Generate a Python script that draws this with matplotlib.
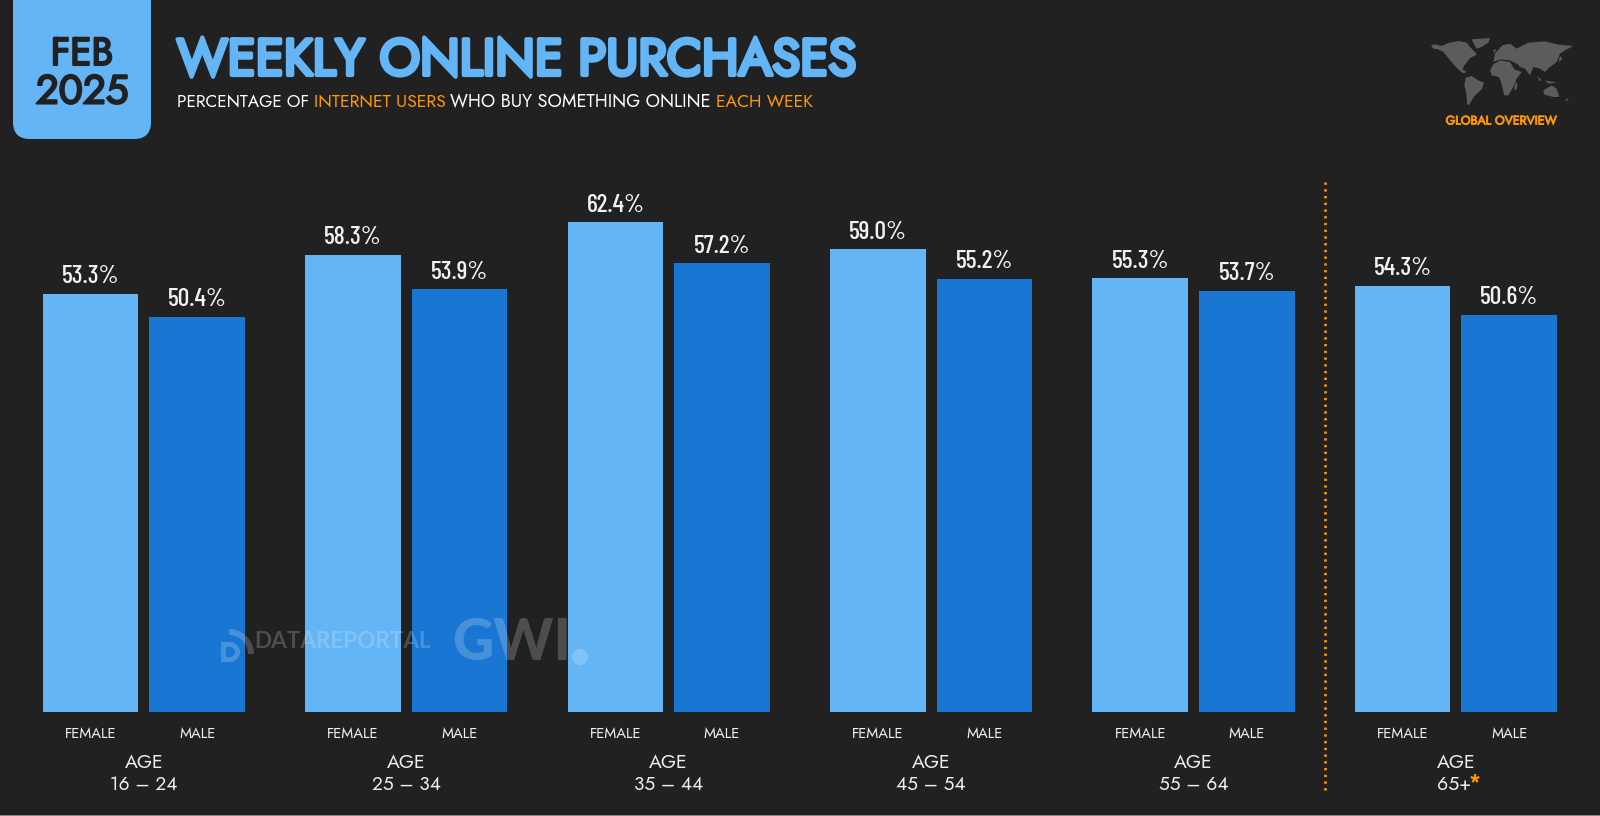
import matplotlib.pyplot as plt
import matplotlib.patheffects as pe
import numpy as np
from matplotlib.patches import FancyBboxPatch, Polygon, Rectangle, Wedge, Circle

bg = "#212121"
light_blue = "#64b5f6"
dark_blue = "#1976d2"
orange = "#ff9800"

age_groups = ["16 – 24", "25 – 34", "35 – 44", "45 – 54", "55 – 64", "65+"]
female = [53.3, 58.3, 62.4, 59.0, 55.3, 54.3]
male = [50.4, 53.9, 57.2, 55.2, 53.7, 50.6]

plain_font = ["Jost", "Lato", "DejaVu Sans"]
value_font = ["Barlow Condensed", "Liberation Sans", "DejaVu Sans"]
mark_font = ["Lato", "DejaVu Sans"]
plt.rcParams["font.family"] = plain_font


def heavy(width, col):
    return [pe.withStroke(linewidth=width, foreground=col)]


fig = plt.figure(figsize=(16, 8.16), dpi=100, facecolor=bg)

# header and decoration layer, in pixels
deco = fig.add_axes([0, 0, 1, 1], zorder=0)
deco.set_xlim(0, 1600)
deco.set_ylim(816, 0)
deco.axis("off")

# bars
base_px = 711.7
top_px = 150
px_per_pct = 7.84
ax = fig.add_axes([0, 1 - base_px / 816, 1, (base_px - top_px) / 816], zorder=1)
ax.set_xlim(0, 1600)
ax.set_ylim(0, (base_px - top_px) / px_per_pct)
ax.axis("off")

group_centers = 143.9 + 262.4 * np.arange(6)
bar_w = 95.5
offset = 53.3
ax.bar(group_centers - offset, female, bar_w, color=light_blue)
ax.bar(group_centers + offset, male, bar_w, color=dark_blue)

for cx, f, m in zip(group_centers, female, male):
    for x, v in ((cx - offset, f), (cx + offset, m)):
        ax.annotate(f"{v:.1f}%", (x, v), xytext=(0, 4), textcoords="offset points",
                    ha="center", va="bottom", color="#f2f2f2", fontsize=18.5,
                    family=value_font, fontweight="medium")

for cx, age in zip(group_centers, age_groups):
    deco.text(cx - offset, 733, "FEMALE", color="#eeeeee", fontsize=10.7, ha="center", va="center")
    deco.text(cx + offset, 733, "MALE", color="#eeeeee", fontsize=10.7, ha="center", va="center")
    deco.text(cx, 763, "AGE", color="#eeeeee", fontsize=14, ha="center", va="center")
    if age == "65+":
        deco.text(cx - 19, 785, age, color="#eeeeee", fontsize=14, ha="left", va="center")
        deco.text(cx + 13, 783, "*", color=orange, fontsize=15, fontweight="bold", ha="left", va="center",
                  path_effects=heavy(0.6, orange))
    else:
        deco.text(cx, 785, age, color="#eeeeee", fontsize=13.8, ha="center", va="center")

# divider before 65+
deco.plot([1325, 1325], [182, 793], color=orange, lw=1.9, ls=(0, (0.9, 1.65)))

# date badge
deco.add_patch(FancyBboxPatch((13, -40), 138, 179, boxstyle="round,pad=0,rounding_size=17",
                              fc=light_blue, ec="none"))
deco.text(82, 54, "FEB", color=bg, fontsize=28, fontweight="bold", ha="center", va="center",
          path_effects=heavy(1.5, bg))
deco.text(82, 92, "2025", color=bg, fontsize=29, fontweight="bold", ha="center", va="center",
          path_effects=heavy(1.5, bg))

deco.text(177, 75, "WEEKLY ONLINE PURCHASES", color=light_blue, fontsize=36.8,
          fontweight="bold", ha="left", va="baseline", path_effects=heavy(3, light_blue))

subtitle = [("PERCENTAGE OF", "white", 177, 12.4), ("INTERNET USERS", orange, 314, 12.7),
            ("WHO BUY SOMETHING ONLINE", "white", 450, 13), ("EACH WEEK", orange, 716, 12.6)]
for txt, col, x, size in subtitle:
    deco.text(x, 107, txt, color=col, fontsize=size, ha="left", va="baseline")

# world map, rough outline
continents = [
    [(18, 40), (30, 37), (50, 42), (70, 33), (100, 27), (125, 32), (135, 45), (150, 60), (155, 68),
     (135, 78), (125, 92), (118, 100), (112, 112), (125, 120), (115, 124), (100, 112), (88, 100),
     (70, 78), (55, 60), (40, 52), (25, 50)],
    [(140, 22), (195, 18), (190, 32), (170, 45), (155, 50), (148, 38)],
    [(122, 137), (140, 132), (160, 145), (177, 152), (170, 172), (150, 190), (140, 205), (132, 220),
     (126, 215), (125, 190), (118, 160)],
    [(205, 97), (225, 85), (255, 90), (268, 112), (290, 120), (275, 140), (265, 165), (250, 190),
     (238, 190), (228, 150), (222, 135), (200, 130), (195, 115)],
    [(205, 90), (210, 65), (232, 40), (255, 35), (275, 50), (310, 32), (360, 28), (400, 38), (445, 42),
     (420, 55), (405, 65), (395, 90), (375, 105), (360, 120), (345, 110), (325, 105), (315, 130),
     (300, 110), (285, 105), (280, 98), (255, 85), (225, 82)],
    [(355, 175), (380, 160), (395, 170), (403, 195), (385, 195), (358, 188)],
    [(335, 130), (350, 145), (345, 148)],
    [(360, 145), (395, 152), (370, 155)],
    [(405, 72), (412, 80), (400, 92)],
    [(270, 155), (277, 150), (275, 172), (268, 175)],
    [(420, 205), (432, 195), (425, 208)],
    [(205, 55), (212, 50), (210, 65)],
]
for c in continents:
    pts = [(1425 + x / 3, 32 + y / 3) for x, y in c]
    deco.add_patch(Polygon(pts, closed=True, fc="#5c5c5c", ec="none"))
deco.text(1501, 121, "GLOBAL OVERVIEW", color=orange, fontsize=8.9, fontweight="bold",
          ha="center", va="center", path_effects=heavy(0.6, orange))

# bottom edge
deco.add_patch(Rectangle((0, 815), 1600, 1, fc="#8a8a8a", ec="none"))

# watermark over the bars
wm = fig.add_axes([0, 0, 1, 1], zorder=2)
wm.set_xlim(0, 1600)
wm.set_ylim(816, 0)
wm.axis("off")
wm_col = (1, 1, 1, 0.2)
wm.text(254, 642, "DATAREPORTAL", color=wm_col, fontsize=16.2, fontweight="bold", family=mark_font,
        ha="left", va="center")
wm.text(452, 644, "GWI", color=wm_col, fontsize=41, fontweight="black", family=mark_font,
        ha="left", va="center")
wm.add_patch(Circle((580, 657), 8, fc=wm_col, ec="none"))
wm.add_patch(Wedge((229, 654), 25, 270, 360, width=6, fc=wm_col, ec="none"))
wm.add_patch(Wedge((230, 652), 10, 270, 450, width=5, fc=wm_col, ec="none"))
wm.add_patch(Rectangle((221, 642), 5, 20, fc=wm_col, ec="none"))
wm.add_patch(Rectangle((226, 642), 4, 5, fc=wm_col, ec="none"))
wm.add_patch(Rectangle((226, 657), 4, 5, fc=wm_col, ec="none"))

fig.savefig("out.png", dpi=100, facecolor=bg)
